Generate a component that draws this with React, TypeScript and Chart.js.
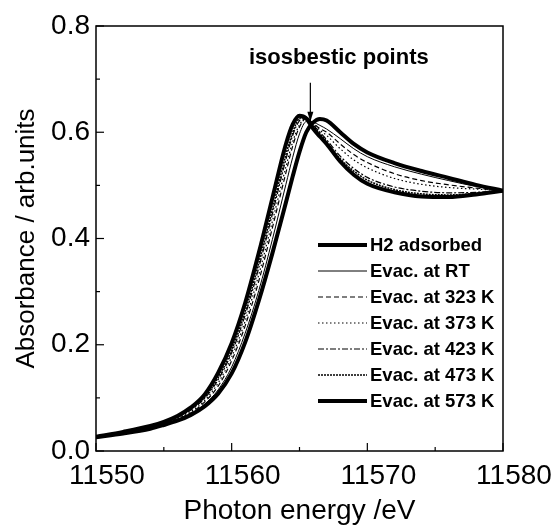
import React, { useEffect, useRef } from "react";
import { Chart, registerables } from "chart.js";

Chart.register(...registerables);

// ---- Data ----
const energy = [
  11550, 11552, 11554, 11555, 11556, 11557, 11558, 11559, 11560, 11561, 11562, 11563, 11564,
  11564.5, 11565, 11565.5, 11566, 11566.5, 11567, 11568, 11569, 11570, 11572, 11574, 11576,
  11578, 11580,
];

const seriesLabels = [
  "H2 adsorbed",
  "Evac. at RT",
  "Evac. at 323 K",
  "Evac. at 373 K",
  "Evac. at 423 K",
  "Evac. at 473 K",
  "Evac. at 573 K",
];

const h2Adsorbed = [
  0.026, 0.033, 0.042, 0.049, 0.057, 0.068, 0.084, 0.108, 0.146, 0.205, 0.283, 0.372, 0.468,
  0.517, 0.563, 0.6, 0.618, 0.625, 0.622, 0.6, 0.578, 0.562, 0.542, 0.527, 0.514, 0.501, 0.49,
];
const evacRT = [
  0.026, 0.034, 0.043, 0.05, 0.059, 0.07, 0.088, 0.115, 0.158, 0.222, 0.302, 0.398, 0.502,
  0.553, 0.597, 0.62, 0.619, 0.613, 0.606, 0.588, 0.569, 0.554, 0.535, 0.521, 0.509, 0.498, 0.49,
];
const evac323 = [
  0.027, 0.034, 0.044, 0.051, 0.06, 0.072, 0.092, 0.122, 0.17, 0.236, 0.32, 0.42, 0.524,
  0.574, 0.61, 0.626, 0.617, 0.607, 0.6, 0.578, 0.558, 0.543, 0.522, 0.509, 0.501, 0.495, 0.49,
];
const evac373 = [
  0.027, 0.034, 0.044, 0.052, 0.061, 0.074, 0.095, 0.128, 0.177, 0.245, 0.332, 0.432, 0.535,
  0.582, 0.614, 0.627, 0.616, 0.604, 0.594, 0.569, 0.548, 0.533, 0.513, 0.502, 0.496, 0.493, 0.49,
];
const evac423 = [
  0.027, 0.035, 0.045, 0.053, 0.063, 0.077, 0.099, 0.134, 0.185, 0.256, 0.345, 0.446, 0.549,
  0.594, 0.622, 0.628, 0.614, 0.6, 0.586, 0.555, 0.532, 0.515, 0.497, 0.489, 0.486, 0.487, 0.49,
];
const evac473 = [
  0.027, 0.035, 0.046, 0.054, 0.064, 0.079, 0.101, 0.138, 0.19, 0.263, 0.354, 0.455, 0.558,
  0.6, 0.626, 0.628, 0.612, 0.597, 0.582, 0.55, 0.527, 0.51, 0.492, 0.484, 0.482, 0.485, 0.49,
];
const evac573 = [
  0.027, 0.036, 0.047, 0.055, 0.066, 0.082, 0.106, 0.147, 0.203, 0.279, 0.373, 0.476, 0.578,
  0.615, 0.631, 0.626, 0.607, 0.592, 0.578, 0.545, 0.52, 0.503, 0.487, 0.479, 0.478, 0.483, 0.49,
];

const xMajorTicks = [11550, 11560, 11570, 11580];
const xMinorTicks = [11555, 11565, 11575];
const yMajorTicks = [0, 0.2, 0.4, 0.6, 0.8];
const yMinorTicks = [0.1, 0.3, 0.5, 0.7];

const annotationText = "isosbestic points";
const isosbesticX = 11565.8;
const arrowFrom = 0.693;
const arrowTo = 0.62;
const annotationX = 11567.9;
const annotationY = 0.74;

const seriesValues = [h2Adsorbed, evacRT, evac323, evac373, evac423, evac473, evac573];
const seriesWidths = [4, 1, 1.2, 1.2, 1.2, 1.6, 4];
const seriesDashes: number[][] = [[], [], [5, 3], [1.5, 2.5], [6, 2, 2, 2], [2, 1], []];

const FONT = '"Liberation Sans", Arial, sans-serif';

const framePlugin = {
  id: "frameTicks",
  afterDatasetsDraw(chart: any) {
    const { ctx, chartArea, scales } = chart;
    const { left, right, top, bottom } = chartArea;
    const xs = scales.x;
    const ys = scales.y;
    ctx.save();
    ctx.strokeStyle = "#000";
    ctx.lineWidth = 1.5;
    ctx.setLineDash([]);
    ctx.strokeRect(left, top, right - left, bottom - top);
    ctx.lineWidth = 1.2;
    const tick = (x1: number, y1: number, x2: number, y2: number) => {
      ctx.beginPath();
      ctx.moveTo(x1, y1);
      ctx.lineTo(x2, y2);
      ctx.stroke();
    };
    xMajorTicks.forEach((v) => {
      const p = xs.getPixelForValue(v);
      tick(p, bottom, p, bottom - 8);
    });
    xMinorTicks.forEach((v) => {
      const p = xs.getPixelForValue(v);
      tick(p, bottom, p, bottom - 4);
    });
    yMajorTicks.forEach((v) => {
      const p = ys.getPixelForValue(v);
      tick(left, p, left + 8, p);
    });
    yMinorTicks.forEach((v) => {
      const p = ys.getPixelForValue(v);
      tick(left, p, left + 4, p);
    });

    // annotation
    const ax = xs.getPixelForValue(isosbesticX);
    const ay1 = ys.getPixelForValue(arrowFrom);
    const ay2 = ys.getPixelForValue(arrowTo);
    ctx.lineWidth = 1.2;
    tick(ax, ay1, ax, ay2);
    ctx.beginPath();
    ctx.moveTo(ax, ay2);
    ctx.lineTo(ax - 3, ay2 - 10);
    ctx.lineTo(ax + 3, ay2 - 10);
    ctx.closePath();
    ctx.fillStyle = "#000";
    ctx.fill();
    ctx.font = `bold 22px ${FONT}`;
    ctx.textAlign = "center";
    ctx.textBaseline = "middle";
    ctx.fillText(annotationText, xs.getPixelForValue(annotationX), ys.getPixelForValue(annotationY));

    // legend
    const lx1 = 318;
    const lx2 = 367;
    const ly0 = 245;
    const dy = 26;
    ctx.font = `bold 18.5px ${FONT}`;
    ctx.textAlign = "left";
    chart.data.datasets.forEach((ds: any, i: number) => {
      const y = ly0 + i * dy;
      ctx.strokeStyle = "#000";
      ctx.lineWidth = ds.borderWidth;
      ctx.setLineDash(ds.borderDash || []);
      tick(lx1, y, lx2, y);
      ctx.setLineDash([]);
      ctx.fillText(ds.label, 370, y + 1);
    });
    ctx.restore();
  },
};

export default function App() {
  const ref = useRef<HTMLCanvasElement>(null);
  useEffect(() => {
    const canvas = ref.current;
    if (!canvas) return;
    const chart = new Chart(canvas, {
      type: "line",
      data: {
        datasets: seriesLabels.map((label, i) => ({
          label,
          data: energy.map((x, j) => ({ x, y: seriesValues[i][j] })),
          borderColor: "#000",
          borderWidth: seriesWidths[i],
          borderDash: seriesDashes[i],
          pointRadius: 0,
          fill: false,
          cubicInterpolationMode: "monotone" as const,
        })),
      },
      options: {
        responsive: false,
        animation: false,
        events: [],
        layout: { padding: { left: 0, top: 26, right: 50, bottom: 0 } },
        plugins: { legend: { display: false }, tooltip: { enabled: false } },
        scales: {
          x: {
            type: "linear",
            min: 11550,
            max: 11580,
            afterFit: (s: any) => {
              s.height = 74;
            },
            afterBuildTicks: (s: any) => {
              s.ticks = xMajorTicks.map((v) => ({ value: v }));
            },
            grid: { display: false, drawTicks: false },
            border: { display: false },
            ticks: {
              color: "#000",
              font: { family: FONT, size: 28 },
              padding: 8,
              labelOffset: 11,
              maxRotation: 0,
              autoSkip: false,
              callback: (v: any) => String(v),
            },
            title: {
              display: true,
              text: "Photon energy /eV",
              color: "#000",
              font: { family: FONT, size: 28, lineHeight: 1 },
              padding: { top: 0, bottom: 0 },
            },
          },
          y: {
            type: "linear",
            min: 0,
            max: 0.8,
            afterFit: (s: any) => {
              s.width = 96;
            },
            afterBuildTicks: (s: any) => {
              s.ticks = yMajorTicks.map((v) => ({ value: v }));
            },
            grid: { display: false, drawTicks: false },
            border: { display: false },
            ticks: {
              color: "#000",
              font: { family: FONT, size: 28 },
              padding: 6,
              callback: (v: any) => Number(v).toFixed(1),
            },
            title: {
              display: true,
              text: "Absorbance / arb.units",
              color: "#000",
              font: { family: FONT, size: 26, lineHeight: 1 },
              padding: { top: 14, bottom: 0 },
            },
          },
        },
      },
      plugins: [framePlugin],
    });
    return () => chart.destroy();
  }, []);
  return (
    <div style={{ position: "fixed", left: 0, top: 0, width: 553, height: 525, background: "#fff" }}>
      <canvas ref={ref} width={553} height={525} />
    </div>
  );
}
